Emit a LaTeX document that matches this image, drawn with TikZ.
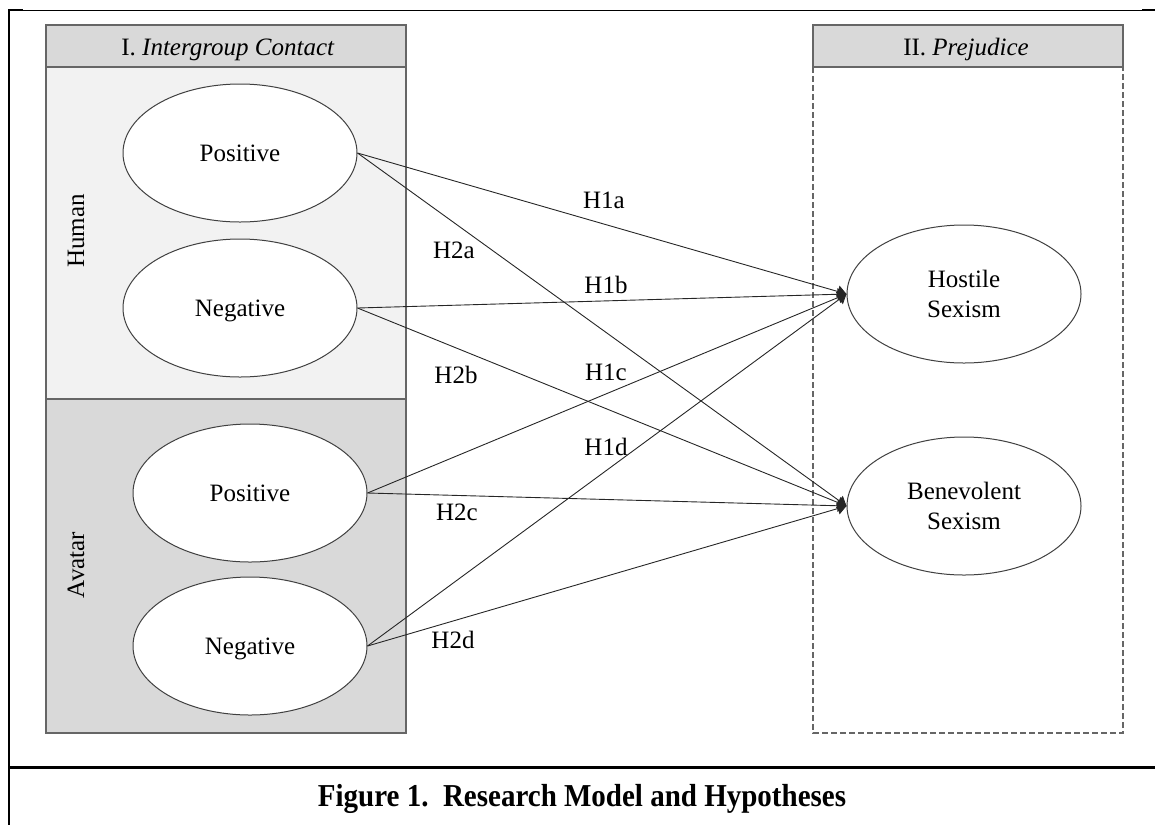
\documentclass[tikz,border=0pt]{standalone}
\usepackage{fontspec}
\setmainfont{Liberation Serif}
\usetikzlibrary{shapes.geometric,arrows.meta}
\definecolor{hdrgray}{HTML}{D9D9D9}
\definecolor{lightgray}{HTML}{F2F2F2}
\definecolor{edgegray}{HTML}{666666}
\definecolor{ellgray}{HTML}{404040}
\tikzset{
  txt/.style={font=\fontsize{25}{30}\selectfont, inner sep=0pt},
  oval/.style={ellipse, draw=ellgray, line width=1pt, fill=white,
    minimum width=234pt, minimum height=138pt, inner sep=0pt,
    align=center, font=\fontsize{25}{30}\selectfont},
  ovalone/.style={oval, text height=17pt, text depth=0pt},
  panel/.style={draw=edgegray, line width=1.2pt},
  hyp/.style={line width=0.9pt, draw=black!85, -{Triangle[length=9pt,width=12pt]}},
  hlab/.style={txt}
}
\begin{document}
\begin{tikzpicture}[x=1pt,y=-1pt]
\useasboundingbox (0,0) rectangle (1155,825);
% outer frame
\draw[line width=1pt] (9,10) -- (1155,10);
\draw[line width=2.5pt] (9,10) -- (23,10);
\draw[line width=2.5pt] (1142,10) -- (1155,10);
\draw[line width=2.5pt] (9,9) -- (9,825);
\draw[line width=3pt] (9,767) -- (1155,767);
% left panel
\filldraw[panel, fill=lightgray] (46,67) rectangle (406,399);
\filldraw[panel, fill=hdrgray] (46,399) rectangle (406,733);
\filldraw[panel, fill=hdrgray] (46,25) rectangle (406,67);
\node[txt, anchor=base] (hdrL) at (228,55) {I. \textit{Intergroup Contact}};
% right panel
\draw[draw=edgegray, line width=1.1pt, dash pattern=on 6pt off 3pt] (813,67) rectangle (1123,733);
\filldraw[panel, fill=hdrgray] (813,25) rectangle (1123,67);
\node[txt, anchor=base] (hdrR) at (966,55) {II. \textit{Prejudice}};
% side labels
\node[txt, rotate=90] (human) at (76,231) {Human};
\node[txt, rotate=90] (avatar) at (76,565) {Avatar};
% ellipses
\node[ovalone] (hp) at (240,153) {Positive};
\node[ovalone] (hn) at (240,308) {Negative};
\node[ovalone] (ap) at (250,493) {Positive};
\node[ovalone] (an) at (250,646) {Negative};
\node[oval] (hs) at (964,294) {Hostile\\Sexism};
\node[oval] (bs) at (964,506) {Benevolent\\Sexism};
% hypotheses
\draw[hyp] (hp.east) -- (hs.west);
\draw[hyp] (hp.east) -- (bs.west);
\draw[hyp] (hn.east) -- (hs.west);
\draw[hyp] (hn.east) -- (bs.west);
\draw[hyp] (ap.east) -- (hs.west);
\draw[hyp] (ap.east) -- (bs.west);
\draw[hyp] (an.east) -- (hs.west);
\draw[hyp] (an.east) -- (bs.west);
\node[hlab] (h1a) at (604,200) {H1a};
\node[hlab] (h2a) at (454,250) {H2a};
\node[hlab] (h1b) at (606,285) {H1b};
\node[hlab] (h2b) at (456,375) {H2b};
\node[hlab] (h1c) at (606,372) {H1c};
\node[hlab] (h1d) at (606,447) {H1d};
\node[hlab] (h2c) at (457,512) {H2c};
\node[hlab] (h2d) at (453,640) {H2d};
% caption
\node[anchor=base, inner sep=0pt, font=\fontsize{29}{34}\selectfont\bfseries] (cap) at (582,806)
  {\scalebox{1}[1.1]{Figure 1.\ \ Research Model and Hypotheses}};
\end{tikzpicture}
\end{document}
